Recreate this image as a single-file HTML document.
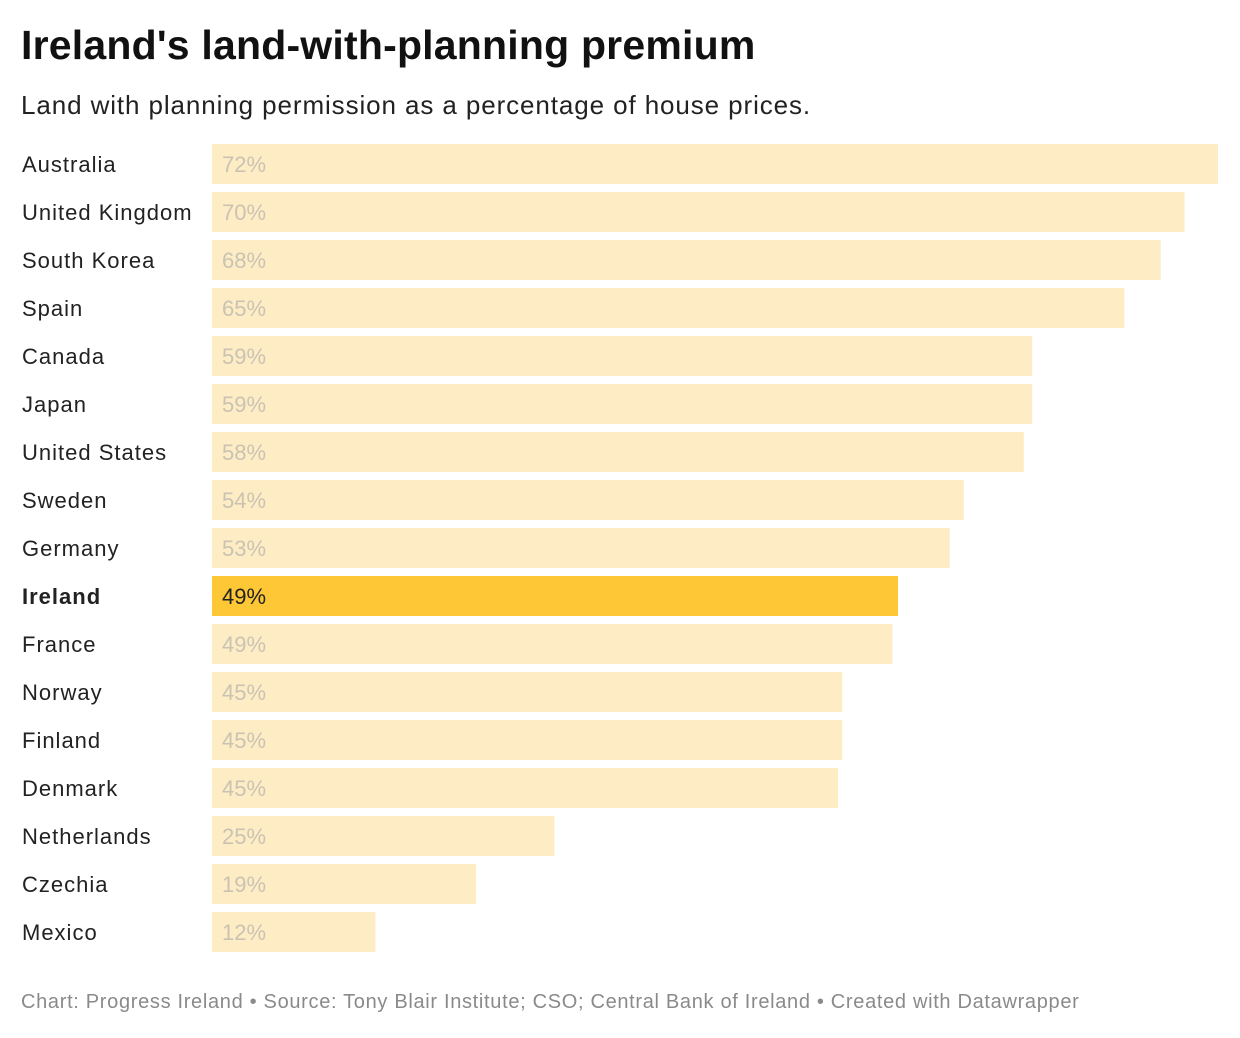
<!DOCTYPE html>
<html><head><meta charset="utf-8">
<style>
body{margin:0;background:#fff;width:1240px;height:1038px;overflow:hidden;font-family:"Liberation Sans",Roboto,sans-serif;}
#title{position:absolute;left:21px;top:22px;font-size:41px;font-weight:bold;color:#111;margin:0;letter-spacing:0.2px}
#sub{position:absolute;left:21px;top:90px;font-size:26px;color:#222;letter-spacing:0.9px}
#foot{position:absolute;left:21px;top:991px;font-size:20px;color:#8a8a8a;letter-spacing:0.68px}
svg{position:absolute;left:0;top:0}
</style></head><body>
<h1 id="title">Ireland's land-with-planning premium</h1>
<div id="sub">Land with planning permission as a percentage of house prices.</div>
<svg id="chart" width="1240" height="1038"></svg>
<div id="foot">Chart: Progress Ireland • Source: Tony Blair Institute; CSO; Central Bank of Ireland • Created with Datawrapper</div>
<script>
const categories=["Australia","United Kingdom","South Korea","Spain","Canada","Japan","United States","Sweden","Germany","Ireland","France","Norway","Finland","Denmark","Netherlands","Czechia","Mexico"];
const values=[72,69.6,67.9,65.3,58.7,58.7,58.1,53.8,52.8,49.1,48.7,45.1,45.1,44.8,24.5,18.9,11.7];
const valueLabels=["72%","70%","68%","65%","59%","59%","58%","54%","53%","49%","49%","45%","45%","45%","25%","19%","12%"];
const highlight="Ireland";
const svg=document.getElementById('chart');
const NS="http://www.w3.org/2000/svg";
const x0=212,x1=1218,maxV=72;
function xs(v){return x0+(v/maxV)*(x1-x0);}
function ys(i){return 144+i*48;}
categories.forEach((c,i)=>{
  const hl=c===highlight;
  const t=document.createElementNS(NS,'text');
  t.setAttribute('x',22);t.setAttribute('y',ys(i)+28);
  t.setAttribute('font-size','22');t.setAttribute('fill','#222');
  t.setAttribute('letter-spacing','1');
  if(hl)t.setAttribute('font-weight','bold');
  t.textContent=c;
  
  
  svg.appendChild(t);
  const r=document.createElementNS(NS,'rect');
  r.setAttribute('x',x0);r.setAttribute('y',ys(i));
  r.setAttribute('width',xs(values[i])-x0);r.setAttribute('height',40);
  r.setAttribute('fill',hl?'#fdc735':'#feedc4');
  
  
  svg.appendChild(r);
  const v=document.createElementNS(NS,'text');
  v.setAttribute('x',222);v.setAttribute('y',ys(i)+28);
  v.setAttribute('font-size','22');v.setAttribute('fill',hl?'#222':'#c9c3b4');
  v.textContent=valueLabels[i];
  
  
  svg.appendChild(v);
});
</script>
</body></html>
